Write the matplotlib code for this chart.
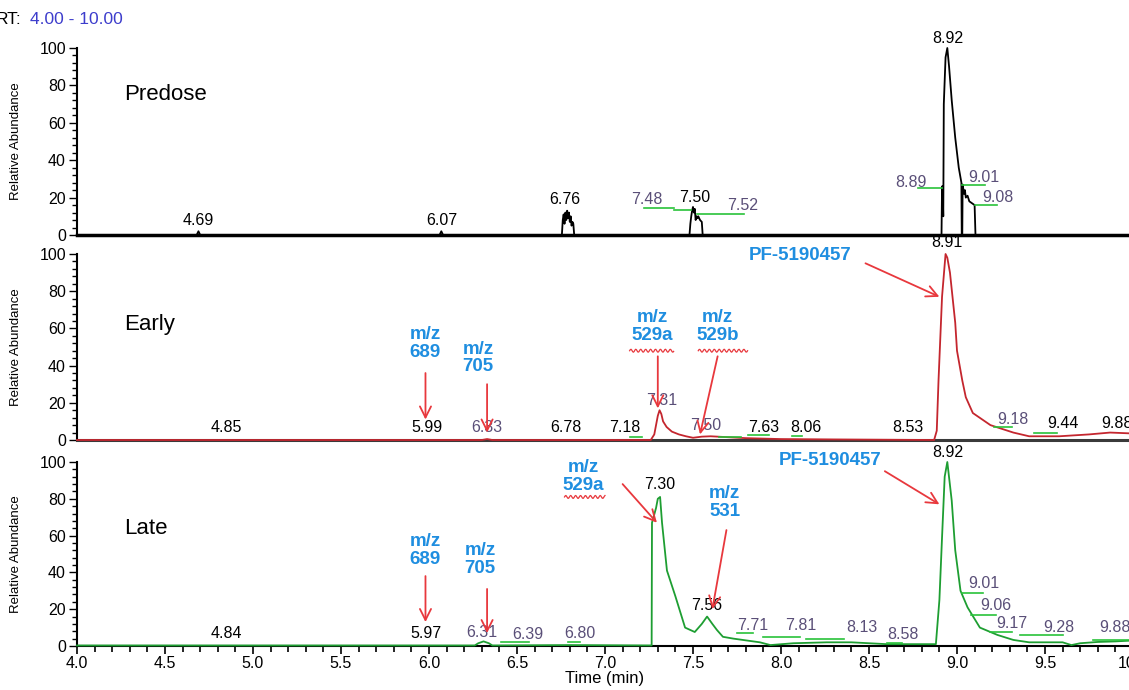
import numpy as np
import matplotlib
matplotlib.use('Agg')
import matplotlib.pyplot as plt
from matplotlib.ticker import MultipleLocator

plt.rcParams['font.family'] = ['Liberation Sans', 'DejaVu Sans']

# ---- traces: retention time (min) vs relative abundance (%)
predose_t = [4.00, 4.68, 4.69, 4.70, 6.06, 6.07, 6.08,
             6.755, 6.76, 6.765, 6.77, 6.775, 6.78, 6.785, 6.79, 6.795, 6.80, 6.805, 6.81, 6.815, 6.82, 6.825,
             7.48, 7.485, 7.49, 7.495, 7.50, 7.505, 7.51, 7.515, 7.52, 7.525, 7.53, 7.54, 7.55, 7.555,
             8.912, 8.915, 8.918, 8.922, 8.925, 8.935, 8.945, 8.955, 8.97, 8.99, 9.01, 9.025, 9.027,
             9.030, 9.032, 9.04, 9.045, 9.05, 9.06, 9.07, 9.085, 9.10, 9.105, 10.0]
predose_y = [0, 0, 2, 0, 0, 2, 0,
             0, 8, 11, 6, 12, 8, 13, 9, 12, 7, 10, 5, 7, 6, 0,
             0, 6, 10, 13, 15, 12, 14, 8, 10, 9, 10, 8, 7, 0,
             0, 26, 26, 10, 70, 95, 100, 90, 72, 52, 36, 28, 0,
             0, 27, 22, 24, 20, 21, 18, 17, 16, 0, 0]

early_t = [4.00, 6.30, 6.33, 6.36, 7.26, 7.28, 7.29, 7.30, 7.31, 7.32, 7.33, 7.35, 7.38, 7.42, 7.46,
           7.50, 7.55, 7.60, 7.70, 7.80, 8.00, 8.30, 8.87, 8.885, 8.895, 8.915, 8.935, 8.945, 8.96,
           8.99, 9.00, 9.03, 9.05, 9.09, 9.19, 9.32, 9.41, 9.58, 9.75, 9.87, 10.0]
early_y = [0, 0, 0.5, 0, 0, 3, 8, 13, 16, 14, 10, 7, 4.5, 3, 2,
           1.2, 1.8, 2, 1.5, 1, 0.5, 0.3, 0, 5, 32, 77, 100, 98, 90,
           63, 48, 32, 23, 14.5, 8, 4, 2, 2, 3, 4, 3.5]

late_t = [4.00, 6.26, 6.28, 6.31, 6.34, 6.36, 6.80, 7.265, 7.267, 7.29, 7.30, 7.313, 7.324, 7.352,
          7.40, 7.455, 7.51, 7.55, 7.58, 7.61, 7.636, 7.67, 7.73, 7.88, 7.94, 8.07, 8.26, 8.40,
          8.60, 8.88, 8.90, 8.915, 8.93, 8.945, 8.97, 8.99, 9.02, 9.06, 9.13, 9.23, 9.32, 9.41,
          9.60, 9.65, 9.70, 9.80, 9.90, 10.0]
late_y = [0.3, 0.3, 1.5, 2.5, 1.5, 0.3, 0.5, 0.3, 67, 75, 80, 81, 67, 41,
          27, 10, 7.6, 12, 16, 12, 8.7, 5, 4, 2, 0.5, 1.5, 2, 2,
          1, 1, 25, 59, 92, 100, 79, 52, 30, 21, 10, 6, 3.3, 2,
          2, 0.5, 1.5, 2.2, 2.5, 3]

# ---- peak labels: (text, time, abundance, integrated?)
predose_labels = [('4.69', 4.69, 8, False), ('6.07', 6.07, 8, False), ('6.76', 6.77, 19, False),
                  ('7.48', 7.24, 19, True), ('7.50', 7.51, 20, False), ('7.52', 7.78, 16, True),
                  ('8.92', 8.945, 105, False), ('8.89', 8.74, 28, True), ('9.01', 9.15, 31, True),
                  ('9.08', 9.23, 20, True)]
early_labels = [('4.85', 4.85, 6.5, False), ('5.99', 5.99, 6.5, False), ('6.33', 6.33, 6.5, True),
                ('6.78', 6.78, 6.5, False), ('7.18', 7.11, 6.5, False), ('7.31', 7.32, 21, True),
                ('7.50', 7.57, 8, True), ('7.63', 7.90, 6.5, False), ('8.06', 8.14, 6.5, False),
                ('8.53', 8.72, 6.5, False), ('8.91', 8.945, 106, False), ('9.18', 9.32, 11, True),
                ('9.44', 9.60, 9, False), ('9.88', 9.91, 9, False)]
late_labels = [('4.84', 4.85, 7, False), ('5.97', 5.98, 7, False), ('6.31', 6.30, 7.6, True),
               ('6.39', 6.56, 6, True), ('6.80', 6.86, 7, True), ('7.30', 7.31, 88, False),
               ('7.56', 7.58, 22, False), ('7.71', 7.84, 11.4, True), ('7.81', 8.11, 11.4, True),
               ('8.13', 8.46, 10, True), ('8.58', 8.69, 6, True), ('8.92', 8.945, 105, False),
               ('9.01', 9.15, 34, True), ('9.06', 9.22, 22, True), ('9.17', 9.31, 12.5, True),
               ('9.28', 9.58, 10, True), ('9.88', 9.90, 10, True)]

# green integration baselines: (t start, t end, abundance)
predose_green = [(7.22, 7.39, 14.4), (7.39, 7.49, 13.4), (7.52, 7.79, 11.2),
                 (8.78, 8.915, 25), (9.03, 9.16, 27), (9.10, 9.23, 16)]
early_green = [(7.14, 7.21, 1.6), (7.65, 7.77, 1.6), (7.81, 7.93, 2.7), (8.06, 8.12, 2),
               (9.21, 9.31, 7), (9.44, 9.57, 4)]
late_green = [(6.41, 6.57, 2.2), (6.79, 6.86, 2), (7.75, 7.84, 7), (7.90, 8.11, 5), (8.14, 8.36, 4),
              (8.60, 8.69, 1.6), (9.03, 9.15, 29), (9.08, 9.22, 17), (9.19, 9.31, 7.6),
              (9.36, 9.60, 6), (9.77, 10.0, 3)]

# metabolite call-outs: (text, text pos, arrow tail, arrow head, squiggle)
early_notes = [('m/z\n689', (5.98, 52), (5.98, 36), (5.98, 11), None),
               ('m/z\n705', (6.28, 44), (6.33, 30), (6.33, 4), None),
               ('m/z\n529a', (7.27, 61), (7.30, 45), (7.30, 17), (7.14, 7.39, 48)),
               ('m/z\n529b', (7.64, 61), (7.64, 45), (7.54, 3), (7.53, 7.81, 48)),
               ('PF-5190457', (8.11, 99), (8.48, 95), (8.90, 77), None)]
late_notes = [('m/z\n689', (5.98, 52), (5.98, 38), (5.98, 13), None),
              ('m/z\n705', (6.29, 47), (6.33, 31), (6.33, 7), None),
              ('m/z\n529a', (6.875, 92), (7.10, 88), (7.295, 67), (6.77, 7.00, 81)),
              ('m/z\n531', (7.68, 78), (7.69, 63), (7.61, 20), None),
              ('PF-5190457', (8.28, 101), (8.59, 95), (8.90, 77), None)]

panels = [
    ('Predose', 75, predose_t, predose_y, 'black', predose_labels, predose_green, [], 2.5),
    ('Early', 62, early_t, early_y, '#c4262e', early_labels, early_green, early_notes, 2.2),
    ('Late', 64, late_t, late_y, '#1e9e32', late_labels, late_green, late_notes, 1.5),
]

blue = '#1f8ee0'
red = '#e8383d'
green = '#29c23a'
labcol = '#5a4f78'

fig = plt.figure(figsize=(11.29, 6.90), dpi=100)
W, H = 1129.0, 690.0
boxes = [(48, 235), (254, 440), (462, 646)]

for i, (name, ny, t, y, col, labels, greens, notes, blw) in enumerate(panels):
    top, bot = boxes[i]
    ax = fig.add_axes([77 / W, 1 - bot / H, 1056 / W, (bot - top) / H])
    ax.set_xlim(4, 10)
    ax.set_ylim(0, 100)
    ax.plot(t, y, color=col, lw=1.3, clip_on=False, zorder=3)
    for sp in ['top', 'right']:
        ax.spines[sp].set_visible(False)
    ax.spines['left'].set_linewidth(1.5)
    ax.spines['bottom'].set_linewidth(blw)
    ax.spines['bottom'].set_color('black' if i != 1 else '#3a3a3a')
    ax.yaxis.set_major_locator(MultipleLocator(20))
    ax.yaxis.set_minor_locator(MultipleLocator(4))
    ax.tick_params(axis='y', which='major', length=6, width=1, labelsize=11.5, pad=2)
    ax.tick_params(axis='y', which='minor', length=3.5, width=1)
    ax.set_ylabel('Relative Abundance', fontsize=9.5, labelpad=0)
    ax.yaxis.set_label_coords(-0.052, 0.5)
    if i < 2:
        ax.tick_params(axis='x', which='both', bottom=False, labelbottom=False)
    else:
        ax.xaxis.set_major_locator(MultipleLocator(0.5))
        ax.xaxis.set_minor_locator(MultipleLocator(0.1))
        ax.xaxis.set_major_formatter(matplotlib.ticker.FormatStrFormatter('%.1f'))
        ax.tick_params(axis='x', which='major', length=6, width=1.2, labelsize=11.5, pad=1)
        ax.tick_params(axis='x', which='minor', length=4, width=1.2)
        ax.set_xlabel('Time (min)', fontsize=12, labelpad=0)

    ax.text(4.265, ny, name, fontsize=16, va='center', ha='left')

    for x0, x1, v in greens:
        ax.plot([x0, x1], [v, v], color=green, lw=1.2, zorder=4, clip_on=False)
    for txt, x, v, integ in labels:
        ax.text(x, v, txt, fontsize=11.5, ha='center', va='center',
                color=labcol if integ else 'black', zorder=5)

    for txt, (tx, tv), tail, head, squig in notes:
        ax.text(tx, tv, txt, fontsize=13.5, fontweight='bold', color=blue,
                ha='center', va='center', linespacing=1.05, zorder=6)
        ax.annotate('', xy=head, xytext=tail,
                    arrowprops=dict(arrowstyle='->', color=red, lw=1.3,
                                    mutation_scale=20, shrinkA=0, shrinkB=0), zorder=6)
        if squig is not None:
            sx = np.linspace(squig[0], squig[1], 60)
            sy = squig[2] + 0.8 * np.sin((sx - squig[0]) / 0.014 * np.pi)
            ax.plot(sx, sy, color=red, lw=0.9, zorder=6, clip_on=False)

fig.text(-0.004, 1 - 20 / H, 'RT:', fontsize=12.5, va='center', ha='left')
fig.text(30 / W, 1 - 20 / H, '4.00 - 10.00', fontsize=12.5, va='center', ha='left', color='#3d3dcc')

fig.savefig('out.png', dpi=100)
